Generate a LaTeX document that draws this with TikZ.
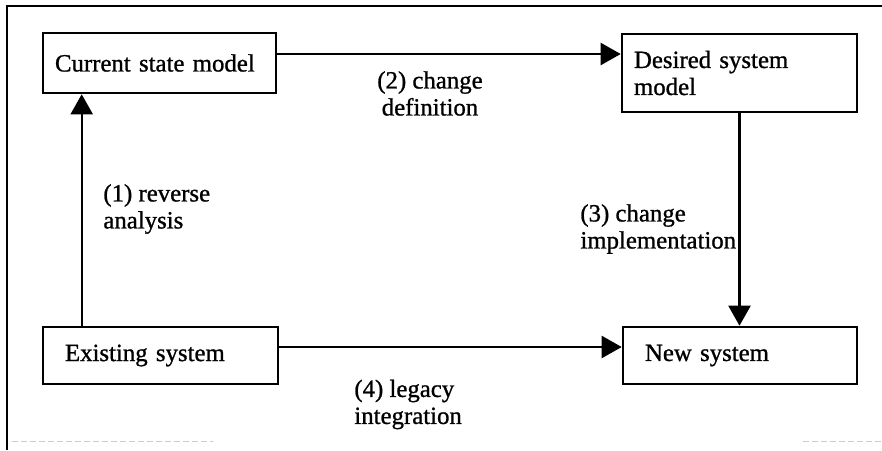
\documentclass[tikz,border=0pt]{standalone}
\usepackage{fontspec}
\setmainfont[FakeBold=1]{Liberation Serif}
\usetikzlibrary{arrows.meta}
\begin{document}
\begin{tikzpicture}[x=0.5pt,y=-0.5pt,
  box/.style={draw, line width=1.3pt, align=left, inner xsep=6pt, inner ysep=0pt,
    font=\fontsize{12.4}{13.5}\selectfont},
  lbl/.style={inner sep=0pt, font=\fontsize{12.4}{13.5}\selectfont},
  arr/.style={line width=1.1pt, -{Triangle[length=10pt,width=11pt]}},
  frame/.style={line width=1.2pt},
  scrap/.style={gray!40, line width=0.5pt, dash pattern=on 3pt off 1.5pt}]
\useasboundingbox (0,0) rectangle (882,450);

% outer frame (top and left edges)
\draw[frame] (7,450) -- (7,6) -- (882,6);
\draw[scrap] (12,441) -- (213,441);
\draw[scrap] (803,441) -- (882,441);

% model / system boxes
\node[box, minimum width=116.5pt, minimum height=30pt, text width=104.5pt] (cur) at (159.5,63) {Current state model};
\node[box, minimum width=117.5pt, minimum height=39pt, text width=105.5pt] (des) at (739.5,73) {Desired system\\model};
\node[box, inner xsep=11pt, minimum width=117.5pt, minimum height=28.5pt, text width=95.5pt] (old) at (160.5,355.5) {Existing system};
\node[box, inner xsep=11pt, minimum width=117pt, minimum height=28.5pt, text width=95pt] (new) at (740,355.5) {New system};

% transitions
\draw[arr] ([xshift=20pt]old.north west) -- ([xshift=20pt]cur.south west);
\draw[arr] ([yshift=4.5pt]cur.east) -- ([yshift=4.5pt]cur.east -| des.west);
\draw[arr] (des.south) -- (des.south |- new.north);
\draw[arr] ([yshift=4.25pt]old.east) -- ([yshift=4.25pt]old.east -| new.west);

% transition labels
\node[lbl, align=left, anchor=west] (l1) at (103,209) {(1) reverse\\analysis};
\node[lbl, align=center] (l2) at (430,93.5) {(2) change\\definition};
\node[lbl, align=left, anchor=west] (l3) at (580,229) {(3) change\\implementation};
\node[lbl, align=left, anchor=west] (l4) at (354,404.5) {(4) legacy\\integration};
\end{tikzpicture}
\end{document}
